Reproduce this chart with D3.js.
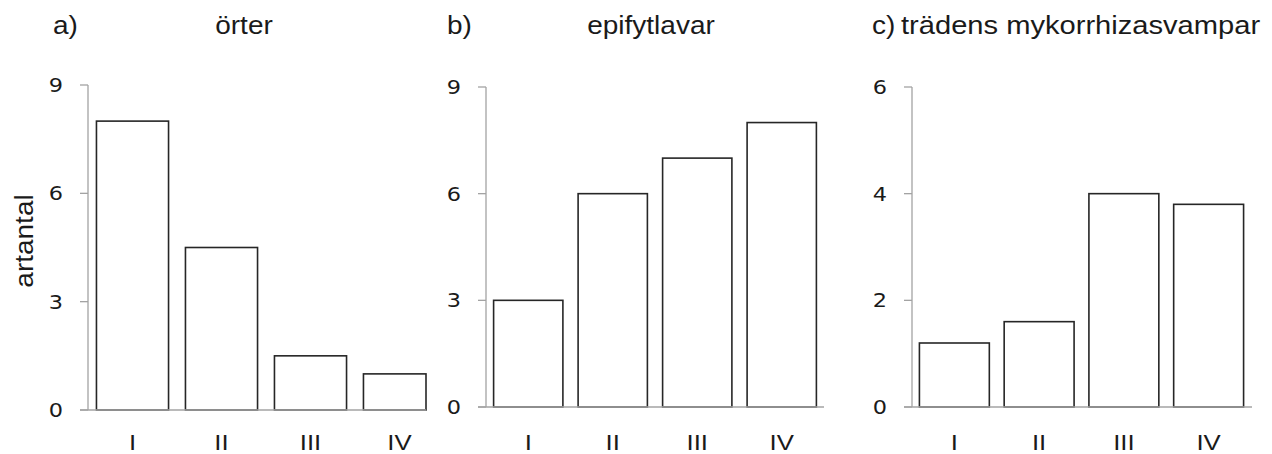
<!DOCTYPE html>
<html>
<head>
<meta charset="utf-8">
<script src="https://cdn.jsdelivr.net/npm/d3@7"></script>
<style>
  body { margin: 0; background: #fff; }
  svg { display: block; }
</style>
</head>
<body>
<svg id="chart" width="1272" height="454"></svg>
<script>
'use strict';

// data
const categories = ['I', 'II', 'III', 'IV'];
const orterValues = [8, 4.5, 1.5, 1];
const lavarValues = [3, 6, 7, 8];
const svampValues = [1.2, 1.6, 4, 3.8];
const ticks9 = [0, 3, 6, 9];
const ticks6 = [0, 2, 4, 6];

const svg = d3.select('#chart');
const TEXT = '#1a1a1a';
const AXIS = '#a3a3a3';

// stretched text helper (fonts in the original are a bit wider)
const label = (g, x, y, str, opts) => {
  const o = Object.assign({ size: 25, anchor: 'start', font: 'Liberation Sans, Arial, sans-serif', rotate: 0, stretch: 1.12 }, opts);
  return g.append('text')
    .attr('transform', `translate(${x},${y}) rotate(${o.rotate}) scale(${o.stretch},1)`)
    .attr('text-anchor', o.anchor)
    .attr('font-family', o.font)
    .attr('font-size', o.size)
    .attr('fill', TEXT)
    .text(str);
};

const panels = [
  { letter: 'a)', letterX: 53, title: 'örter', titleX: 244, titleAnchor: 'middle', titleStretch: 1.12,
    values: orterValues, ticks: ticks9, max: 9,
    x0: 88, x1: 444, clipX: 426, top: 85, bottom: 410, pad: 0.19 },
  { letter: 'b)', letterX: 447, title: 'epifytlavar', titleX: 651, titleAnchor: 'middle', titleStretch: 1.12,
    values: lavarValues, ticks: ticks9, max: 9,
    x0: 486, x1: 824, clipX: 824, top: 87, bottom: 407, pad: 0.18 },
  { letter: 'c)', letterX: 872, title: 'trädens mykorrhizasvampar', titleX: 901, titleAnchor: 'start', titleStretch: 1.165,
    values: svampValues, ticks: ticks6, max: 6,
    x0: 912, x1: 1251, clipX: 1252, top: 87, bottom: 407, pad: 0.175 }
];

panels.forEach(p => {
  const g = svg.append('g');

  const x = d3.scaleBand()
    .domain(categories)
    .range([p.x0, p.x1])
    .paddingInner(p.pad)
    .paddingOuter(p.pad / 2);

  const y = d3.scaleLinear()
    .domain([0, p.max])
    .range([p.bottom, p.top]);

  // titles
  label(g, p.letterX, 34, p.letter);
  label(g, p.titleX, 34, p.title, { anchor: p.titleAnchor, stretch: p.titleStretch });

  // bars; the last one is cut at the end of the x axis like the original
  g.append('g')
    .selectAll('rect')
    .data(p.values)
    .join('rect')
    .attr('x', (d, j) => x(categories[j]))
    .attr('y', d => y(d))
    .attr('width', (d, j) => Math.min(x(categories[j]) + x.bandwidth(), p.clipX) - x(categories[j]))
    .attr('height', d => y(0) - y(d))
    .attr('fill', '#fff')
    .attr('stroke', '#262626')
    .attr('stroke-width', 1.6);

  // y axis: line and ticks
  const yAxis = g.append('g').attr('transform', `translate(${p.x0},0)`);
  yAxis.append('line')
    .attr('x1', 0).attr('x2', 0)
    .attr('y1', y(p.max)).attr('y2', y(0))
    .attr('stroke', AXIS).attr('stroke-width', 1.3);
  yAxis.selectAll('.tick')
    .data(p.ticks)
    .join('line')
    .attr('class', 'tick')
    .attr('x1', -8).attr('x2', 0)
    .attr('y1', d => y(d)).attr('y2', d => y(d))
    .attr('stroke', AXIS).attr('stroke-width', 1.3);
  p.ticks.forEach(t => {
    label(g, p.x0 - 25, y(t) + 7, t, { anchor: 'end', size: 20, font: 'DejaVu Sans, Verdana, sans-serif' });
  });

  // x axis line
  g.append('line')
    .attr('x1', p.x0 - 8).attr('x2', p.clipX)
    .attr('y1', y(0)).attr('y2', y(0))
    .attr('stroke', AXIS).attr('stroke-width', 1.6);

  categories.forEach(c => {
    label(g, x(c) + x.bandwidth() / 2, 450, c, { anchor: 'middle', size: 23 });
  });
});

// y axis title
label(svg, 33, 241, 'artantal', { anchor: 'middle', rotate: -90 });
</script>
</body>
</html>
